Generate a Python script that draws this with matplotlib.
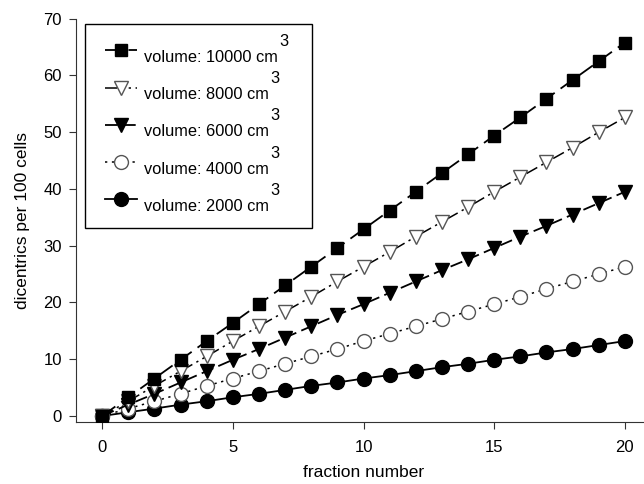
import matplotlib
matplotlib.use("Agg")
import matplotlib.pyplot as plt
from matplotlib.transforms import IdentityTransform, Affine2D

plt.rcParams['font.family'] = ['Liberation Sans', 'DejaVu Sans']

fraction = list(range(21))
vol_10000 = [0, 3.3, 6.6, 9.9, 13.2, 16.4, 19.7, 23.0, 26.3, 29.6, 32.9, 36.2, 39.5, 42.8, 46.1, 49.4, 52.6, 55.9, 59.2, 62.5, 65.8]
vol_8000 = [0, 2.6, 5.3, 7.9, 10.5, 13.2, 15.8, 18.4, 21.0, 23.7, 26.3, 28.9, 31.6, 34.2, 36.8, 39.5, 42.1, 44.7, 47.3, 50.0, 52.6]
vol_6000 = [0, 2.0, 3.9, 5.9, 7.9, 9.9, 11.8, 13.8, 15.8, 17.8, 19.7, 21.7, 23.7, 25.7, 27.6, 29.6, 31.6, 33.5, 35.5, 37.5, 39.5]
vol_4000 = [0, 1.3, 2.6, 3.9, 5.3, 6.6, 7.9, 9.2, 10.5, 11.8, 13.2, 14.5, 15.8, 17.1, 18.4, 19.7, 21.0, 22.4, 23.7, 25.0, 26.3]
vol_2000 = [0, 0.66, 1.3, 2.0, 2.6, 3.3, 3.9, 4.6, 5.3, 5.9, 6.6, 7.2, 7.9, 8.6, 9.2, 9.9, 10.5, 11.2, 11.8, 12.5, 13.2]
labels = ["volume: 10000 cm", "volume: 8000 cm", "volume: 6000 cm",
          "volume: 4000 cm", "volume: 2000 cm"]
superscript = "3"

W, H = 644, 484
fig = plt.figure(figsize=(W / 100, H / 100), dpi=100)
# axes spans x pixels 76..651 (right end clipped by figure edge), y pixels 18.7..422
ax = fig.add_axes([76 / W, (H - 422) / H, (651 - 76) / W, (422 - 18.7) / H])

ms = 9
ax.plot(fraction, vol_10000, color='black', marker='s', ms=ms, lw=1.3,
        linestyle=(0, (9, 4)), label=labels[0], zorder=5)
ax.plot(fraction, vol_8000, color='black', marker='v', ms=ms+1, lw=1.1, mfc='white', mec='#555555',
        linestyle=(0, (8, 3, 1.5, 3, 1.5, 3)), label=labels[1], zorder=4)
ax.plot(fraction, vol_6000, color='black', marker='v', ms=ms+1, lw=1.3,
        linestyle=(0, (7, 3)), label=labels[2], zorder=3)
ax.plot(fraction, vol_4000, color='black', marker='o', ms=ms+1, lw=1.1, mfc='white', mec='#555555',
        linestyle=(0, (1.5, 3)), label=labels[3], zorder=2)
ax.plot(fraction, vol_2000, color='black', marker='o', ms=ms+1, lw=1.3,
        linestyle='-', label=labels[4], zorder=1)

ax.set_xlim(-1, 21)
ax.set_ylim(-1.06, 70)
ax.set_xticks([0, 5, 10, 15, 20])
ax.set_yticks(range(0, 71, 10))
ax.spines['top'].set_visible(False)
ax.spines['right'].set_visible(False)
ax.spines['left'].set_color('#333333')
ax.spines['bottom'].set_color('#333333')
ax.tick_params(direction='out', length=5, labelsize=12, color='#333333')
ax.tick_params(axis='x', pad=8)
ax.tick_params(axis='y', pad=5)
ax.set_xlabel("fraction number", fontsize=12.5, labelpad=7)
ax.set_ylabel("dicentrics per 100 cells", fontsize=12.5, labelpad=10)

fs = 11.8
leg = ax.legend(labels=[l + "   " for l in labels], loc='upper left',
                bbox_to_anchor=(9 / 575, 1 - 5 / 403.3), fontsize=fs,
                frameon=True, fancybox=False, edgecolor='black', framealpha=1,
                handlelength=1.9, labelspacing=1.35, borderpad=1.25, handletextpad=0.45,
                borderaxespad=0.0)
leg.get_frame().set_linewidth(1.0)
# texts sit a little lower than their symbols
for t in leg.get_texts():
    t.set_transform(t.get_transform() + Affine2D().translate(0, -6))

fig.canvas.draw()
renderer = fig.canvas.get_renderer()
for t, lab in zip(leg.get_texts(), labels):
    bb = t.get_window_extent(renderer)
    w, h, d = renderer.get_text_width_height_descent(lab, t.get_fontproperties(), ismath=False)
    _, _, dlp = renderer.get_text_width_height_descent("lp", t.get_fontproperties(), ismath=False)
    baseline = bb.y0 + dlp
    fig.text(bb.x0 + w + 1, baseline + 16, superscript, transform=IdentityTransform(),
             fontsize=fs, ha='left', va='baseline')

fig.savefig("out.png", dpi=100)
